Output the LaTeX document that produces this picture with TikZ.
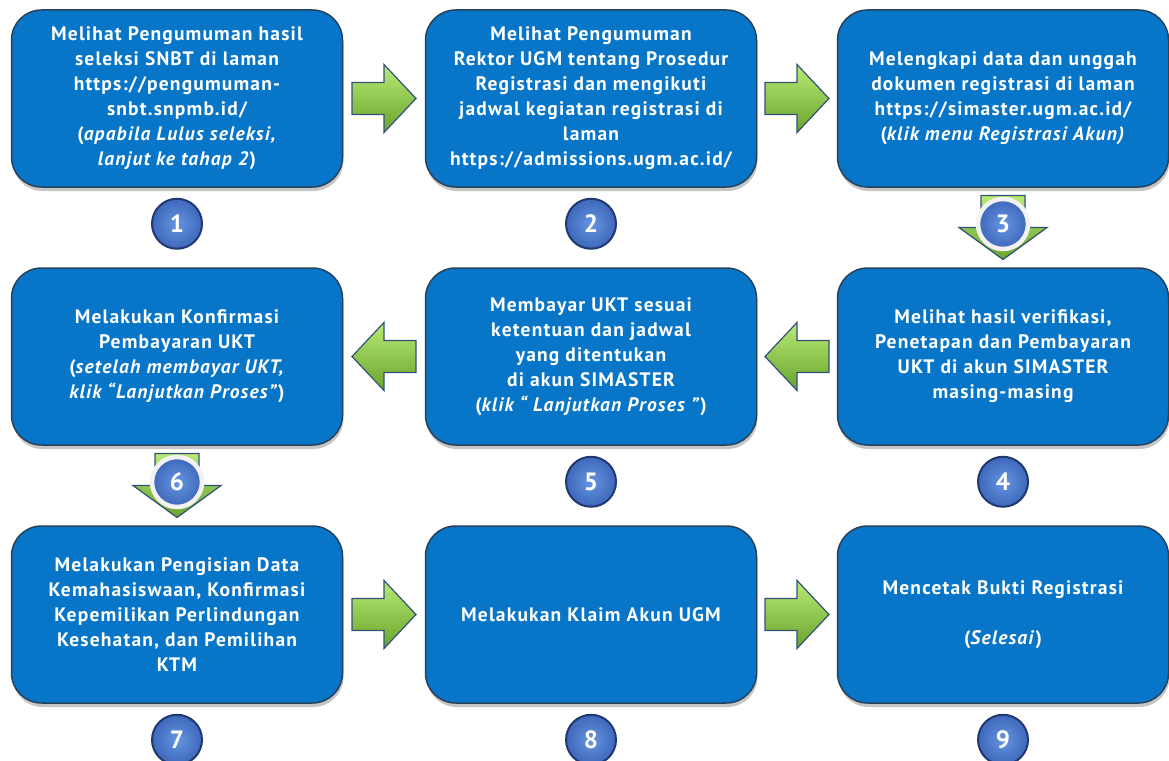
\documentclass[tikz,border=0pt]{standalone}
\usepackage{fontspec}
\setmainfont{PT Sans}[LetterSpace=6]
\usetikzlibrary{calc}
\usetikzlibrary{positioning}
\usetikzlibrary{shadows}

\definecolor{boxblue}{RGB}{8,118,200}
\definecolor{boxline}{RGB}{38,66,92}
\definecolor{badgeblue}{RGB}{62,104,186}
\definecolor{badgelight}{RGB}{102,148,226}
\definecolor{badgedark}{RGB}{34,56,112}
\definecolor{arrowlight}{RGB}{184,234,118}
\definecolor{arrowgreen}{RGB}{146,208,80}
\definecolor{arrowdark}{RGB}{104,164,44}
\definecolor{arrowline}{RGB}{52,80,120}

\tikzset{
	stepbox/.style={draw=boxline, line width=1.5pt, fill=boxblue, rounded corners=30pt,
		minimum width=331pt, minimum height=177pt, align=center, text=white,
		font=\fontsize{19.5}{25}\selectfont\bfseries,
		drop shadow={shadow xshift=1pt, shadow yshift=-4pt, opacity=0.45}},
	badge/.style={circle, draw=badgedark, line width=2pt, inner color=badgelight, outer color=badgeblue,
		minimum size=50pt, inner sep=0pt, text=white, font=\fontsize{25}{25}\selectfont\bfseries},
	ringbadge/.style={badge, draw=gray!10, line width=4.5pt},
	arrowbody/.style={draw=arrowline, line width=1.2pt, top color=arrowlight, middle color=arrowgreen, bottom color=arrowdark},
	pics/blockarrow/.style 2 args={code={
		\draw[arrowbody] (-32,-#1) -- (0,-#1) -- (0,-#2) -- (32,0) -- (0,#2) -- (0,#1) -- (-32,#1) -- cycle;
	}},
}

\begin{document}
\begin{tikzpicture}[x=1pt,y=-1pt]

	\useasboundingbox (0,0) rectangle (1169,760);

	%Steps
	%Row 1
	\node[stepbox] (b1) at (177,98.5) {Melihat Pengumuman hasil\\seleksi SNBT di laman\\https://pengumuman-\\snbt.snpmb.id/\\(\textit{apabila Lulus seleksi,}\\\textit{lanjut ke tahap 2})};
	\node[stepbox] (b2) at (591,98.5) {Melihat Pengumuman\\Rektor UGM tentang Prosedur\\Registrasi dan mengikuti\\jadwal kegiatan registrasi di\\laman\\https://admissions.ugm.ac.id/};
	\node[stepbox] (b3) at (1003,98.5) {Melengkapi data dan unggah\\dokumen registrasi di laman\\https://simaster.ugm.ac.id/\\(\textit{klik menu Registrasi Akun)}};

	%Row 2
	\node[stepbox] (b6) at (177,356.5) {Melakukan Konfirmasi\\Pembayaran UKT\\(\textit{setelah membayar UKT,}\\\textit{klik “Lanjutkan Proses”})};
	\node[stepbox] (b5) at (591,356.5) {Membayar UKT sesuai\\ketentuan dan jadwal\\yang ditentukan\\di akun SIMASTER\\(\textit{klik “ Lanjutkan Proses ”})};
	\node[stepbox] (b4) at (1003,356.5) {Melihat hasil verifikasi,\\Penetapan dan Pembayaran\\UKT di akun SIMASTER\\masing-masing};

	%Row 3
	\node[stepbox] (b7) at (177,614.5) {Melakukan Pengisian Data\\Kemahasiswaan, Konfirmasi\\Kepemilikan Perlindungan\\Kesehatan, dan Pemilihan\\KTM};
	\node[stepbox] (b8) at (591,614.5) {Melakukan Klaim Akun UGM};
	\node[stepbox] (b9) at (1003,614.5) {Mencetak Bukti Registrasi\\[25pt](\textit{Selesai})};

	%Arrows
	\pic at ($(b1.east)!0.5!(b2.west)$) {blockarrow={16}{34}};
	\pic at ($(b2.east)!0.5!(b3.west)$) {blockarrow={16}{34}};
	\pic[rotate=-90] at ($(b3.south)!0.5!(b4.north)$) {blockarrow={22}{44}};
	\pic[rotate=180] at ($(b4.west)!0.5!(b5.east)$) {blockarrow={16}{34}};
	\pic[rotate=180] at ($(b5.west)!0.5!(b6.east)$) {blockarrow={16}{34}};
	\pic[rotate=-90] at ($(b6.south)!0.5!(b7.north)$) {blockarrow={22}{44}};
	\pic at ($(b7.east)!0.5!(b8.west)$) {blockarrow={16}{34}};
	\pic at ($(b8.east)!0.5!(b9.west)$) {blockarrow={16}{34}};

	%Numbers
	\node[badge, below=10pt of b1] (n1) {1};
	\node[badge, below=10pt of b2] (n2) {2};
	\node[ringbadge, below=9pt of b3] (n3) {3};
	\node[badge, below=10pt of b4] (n4) {4};
	\node[badge, below=10pt of b5] (n5) {5};
	\node[ringbadge, below=9pt of b6] (n6) {6};
	\node[badge, below=10pt of b7] (n7) {7};
	\node[badge, below=10pt of b8] (n8) {8};
	\node[badge, below=10pt of b9] (n9) {9};

\end{tikzpicture}
\end{document}
